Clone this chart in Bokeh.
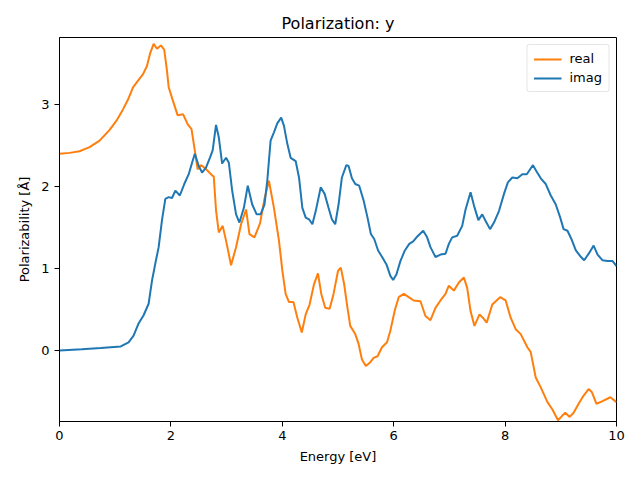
from bokeh.plotting import figure
from bokeh.models import Range1d, FixedTicker, Legend, LegendItem
from bokeh.embed import file_html
from bokeh.resources import INLINE

energy_real = [0.0, 0.18, 0.36, 0.54, 0.72, 0.90, 1.02, 1.14, 1.23, 1.32, 1.41, 1.50, 1.57, 1.63, 1.69,
               1.75, 1.82, 1.88, 1.93, 1.96,
               2.03, 2.12, 2.22, 2.30, 2.37, 2.42, 2.48, 2.54, 2.62, 2.72, 2.77, 2.81, 2.86, 2.93,
               2.99, 3.08, 3.17, 3.26, 3.35, 3.41, 3.50, 3.60, 3.68, 3.76, 3.85, 3.94, 4.00, 4.06,
               4.12, 4.20, 4.27, 4.35, 4.42, 4.49, 4.57, 4.64, 4.70, 4.77, 4.85, 4.92, 5.00, 5.05,
               5.11, 5.17, 5.22, 5.31, 5.37, 5.43, 5.50, 5.57, 5.64, 5.71, 5.79, 5.88, 5.94, 6.02,
               6.09, 6.18, 6.27, 6.36, 6.48, 6.57, 6.66, 6.75, 6.84, 6.93, 6.99, 7.08, 7.17, 7.26,
               7.32, 7.38, 7.45, 7.54, 7.60, 7.67, 7.77, 7.91, 8.01, 8.10, 8.19, 8.28, 8.40, 8.46,
               8.55, 8.64, 8.76, 8.85, 8.95, 9.02, 9.08, 9.16, 9.23, 9.32, 9.41, 9.50, 9.56, 9.64,
               9.74, 9.89, 10.0]
real_vals = [2.40, 2.41, 2.43, 2.48, 2.56, 2.69, 2.80, 2.94, 3.06, 3.21, 3.29, 3.37, 3.47, 3.63, 3.74,
             3.68, 3.72, 3.67, 3.41, 3.21,
             3.06, 2.87, 2.88, 2.76, 2.70, 2.48, 2.21, 2.26, 2.22, 2.15, 2.12, 1.71, 1.44, 1.52,
             1.34, 1.04, 1.26, 1.54, 1.72, 1.42, 1.38, 1.55, 1.85, 2.07, 1.74, 1.34, 0.98, 0.69,
             0.59, 0.59, 0.40, 0.22, 0.44, 0.56, 0.81, 0.94, 0.69, 0.52, 0.51, 0.69, 0.97, 1.01,
             0.81, 0.52, 0.30, 0.20, 0.08, -0.11, -0.19, -0.15, -0.09, -0.07, 0.04, 0.10, 0.24, 0.49,
             0.65, 0.69, 0.65, 0.61, 0.60, 0.42, 0.37, 0.52, 0.61, 0.69, 0.79, 0.73, 0.83, 0.89,
             0.76, 0.48, 0.30, 0.44, 0.40, 0.34, 0.56, 0.65, 0.61, 0.40, 0.26, 0.20, 0.04, -0.02,
             -0.33, -0.45, -0.63, -0.72, -0.85, -0.80, -0.76, -0.81, -0.76, -0.65, -0.55, -0.47, -0.51, -0.65,
             -0.62, -0.57, -0.63]

energy_imag = [0.0, 0.4, 0.74, 1.10, 1.24, 1.33, 1.42, 1.51, 1.60, 1.66, 1.72, 1.78, 1.84, 1.90, 1.96,
               2.02, 2.08, 2.16, 2.24, 2.32, 2.38, 2.43, 2.50, 2.56, 2.63, 2.70, 2.75, 2.81, 2.86,
               2.92, 2.99, 3.04, 3.10, 3.17, 3.23, 3.31, 3.38, 3.46, 3.54, 3.61, 3.68, 3.73, 3.79,
               3.85, 3.91, 3.98, 4.03, 4.09, 4.15, 4.24, 4.30, 4.36, 4.42, 4.48, 4.54, 4.60, 4.69,
               4.76, 4.83, 4.89, 4.95, 5.01, 5.07, 5.15, 5.19, 5.25, 5.31, 5.38, 5.46, 5.53, 5.59,
               5.65, 5.72, 5.80, 5.87, 5.94, 5.99, 6.05, 6.12, 6.20, 6.28, 6.35, 6.41, 6.47, 6.53,
               6.60, 6.66, 6.75, 6.84, 6.93, 6.99, 7.05, 7.14, 7.23, 7.29, 7.38, 7.44, 7.52, 7.59,
               7.65, 7.73, 7.80, 7.89, 7.98, 8.05, 8.13, 8.22, 8.31, 8.39, 8.45, 8.50, 8.56, 8.64,
               8.73, 8.82, 8.91, 8.99, 9.05, 9.12, 9.19, 9.27, 9.35, 9.42, 9.51, 9.59, 9.66, 9.75,
               9.84, 9.93, 10.0]
imag_vals = [0.0, 0.015, 0.03, 0.05, 0.10, 0.18, 0.33, 0.43, 0.57, 0.85, 1.06, 1.26, 1.59, 1.85, 1.87,
             1.86, 1.95, 1.89, 2.03, 2.15, 2.29, 2.40, 2.25, 2.17, 2.23, 2.35, 2.44, 2.75, 2.60,
             2.28, 2.35, 2.29, 1.95, 1.66, 1.56, 1.74, 2.01, 1.78, 1.66, 1.66, 1.78, 2.07, 2.56,
             2.66, 2.77, 2.84, 2.74, 2.52, 2.35, 2.31, 2.11, 1.74, 1.62, 1.60, 1.54, 1.70, 1.99,
             1.91, 1.74, 1.60, 1.54, 1.78, 2.11, 2.26, 2.25, 2.10, 2.03, 2.01, 1.83, 1.62, 1.42,
             1.36, 1.22, 1.13, 1.05, 0.91, 0.86, 0.93, 1.09, 1.22, 1.30, 1.33, 1.38, 1.42, 1.46,
             1.38, 1.26, 1.14, 1.17, 1.18, 1.30, 1.38, 1.40, 1.52, 1.72, 1.93, 1.77, 1.59, 1.66,
             1.58, 1.48, 1.56, 1.70, 1.91, 2.05, 2.11, 2.10, 2.15, 2.15, 2.21, 2.26, 2.19, 2.10,
             2.03, 1.89, 1.78, 1.62, 1.48, 1.46, 1.36, 1.22, 1.15, 1.10, 1.19, 1.28, 1.17, 1.10,
             1.09, 1.09, 1.03]

x_ticks = [0, 2, 4, 6, 8, 10]
y_ticks = [0, 1, 2, 3]

FONT = "DejaVu Sans"

p = figure(width=640, height=480, output_backend="svg", toolbar_location=None,
           x_range=Range1d(0, 10), y_range=Range1d(-0.866, 3.817),
           min_border_left=59, min_border_right=24, min_border_top=37, min_border_bottom=59,
           title="Polarization: y")
p.title.align = "center"
p.title.text_font = FONT
p.title.text_font_size = "16px"
p.title.text_font_style = "normal"
p.title.text_color = "black"
p.title.offset = 0

p.grid.visible = False
p.outline_line_color = "black"
p.outline_line_width = 1
p.background_fill_color = "white"
p.border_fill_color = "white"

for ax, ticks, label in ((p.xaxis[0], x_ticks, "Energy [eV]"), (p.yaxis[0], y_ticks, "Polarizability [Å]")):
    ax.ticker = FixedTicker(ticks=ticks)
    ax.minor_tick_line_color = None
    ax.major_tick_out = 5
    ax.major_tick_in = 0
    ax.axis_label = label
    ax.axis_label_text_font = FONT
    ax.axis_label_text_font_size = "13px"
    ax.axis_label_text_font_style = "normal"
    ax.major_label_text_font = FONT
    ax.major_label_text_font_size = "13px"
    ax.axis_line_color = "black"
    ax.major_tick_line_color = "black"
    ax.major_label_text_color = "black"
    ax.axis_label_text_color = "black"

p.xaxis.major_label_standoff = 4
p.xaxis.axis_label_standoff = 6
p.yaxis.major_label_standoff = 5
p.yaxis.axis_label_standoff = 6

r_real = p.line(energy_real, real_vals, line_color="#ff7f0e", line_width=2)
r_imag = p.line(energy_imag, imag_vals, line_color="#1f77b4", line_width=2)

legend = Legend(items=[LegendItem(label="real", renderers=[r_real]),
                       LegendItem(label="imag", renderers=[r_imag])],
                location="top_right")
legend.label_text_font = FONT
legend.label_text_font_size = "13px"
legend.label_text_color = "black"
legend.border_line_color = "#cccccc"
legend.border_line_width = 1
legend.border_radius = 3
legend.background_fill_alpha = 0.8
legend.glyph_width = 28
legend.glyph_height = 14
legend.label_standoff = 8
legend.padding = 6
legend.spacing = 4
legend.margin = 7
p.add_layout(legend)

open("out.html", "w").write(file_html(p, INLINE))
